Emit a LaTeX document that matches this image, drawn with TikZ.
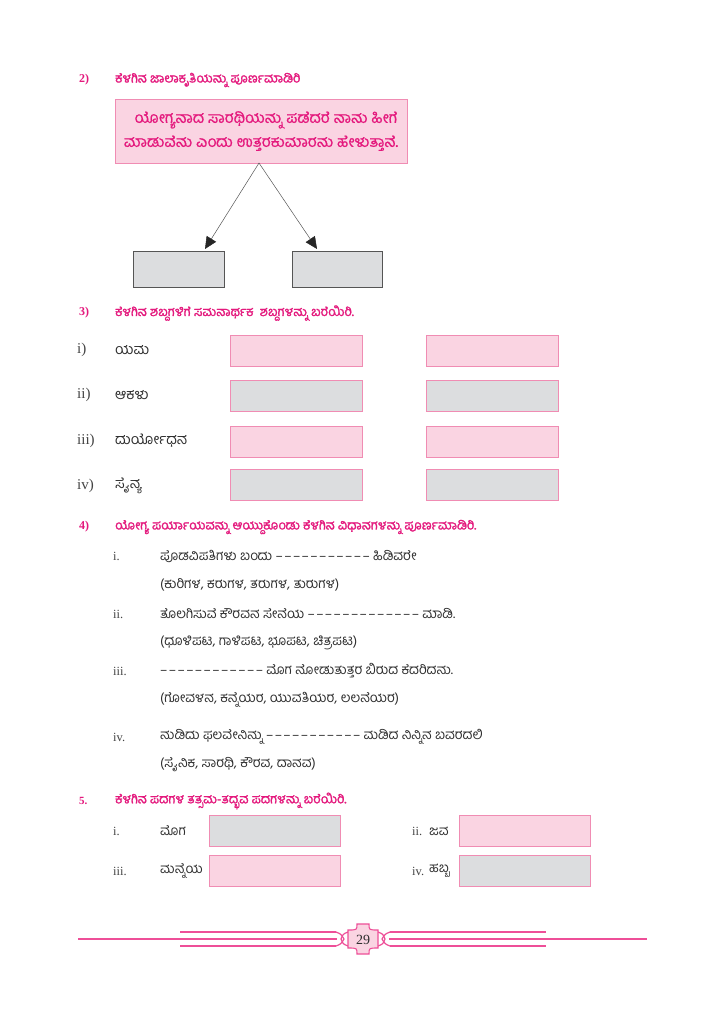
\documentclass[tikz,border=0pt]{standalone}
\usepackage{fontspec}
\setmainfont{Liberation Serif}
\newfontfamily\kn[Script=Kannada]{Hind Mysuru}
\newfontfamily\knb[Script=Kannada,FakeBold=1.6]{Hind Mysuru}
\newfontfamily\knm[Script=Kannada,FakeBold=0.8]{Hind Mysuru}
\usetikzlibrary{arrows.meta}
\definecolor{pk}{HTML}{E4197D}
\definecolor{pkf}{HTML}{FAD4E2}
\definecolor{pkb}{HTML}{F08CB3}
\definecolor{gyf}{HTML}{DCDDDF}
\definecolor{gyb}{HTML}{555555}
\definecolor{txt}{HTML}{2E2E2E}
\definecolor{rom}{HTML}{444444}
\definecolor{ftl}{HTML}{EE4F98}
\newcommand{\dd}{–\kern1.4pt}
\tikzset{
  hdnum/.style={anchor=west, inner sep=0, text=pk, font=\bfseries\fontsize{12}{12}\selectfont},
  hdtxt/.style={anchor=west, inner sep=0, text=pk, font=\knb\fontsize{12.8}{13}\selectfont},
  roml/.style={anchor=west, inner sep=0, text=rom, font=\fontsize{15}{15}\selectfont},
  romi/.style={anchor=west, inner sep=0, text=rom, font=\fontsize{12.5}{13}\selectfont},
  word/.style={anchor=west, inner sep=0, text=txt, font=\kn\fontsize{14.5}{15}\selectfont},
  sword/.style={anchor=west, inner sep=0, text=txt, font=\kn\fontsize{13.5}{14}\selectfont},
  item/.style={anchor=west, inner sep=0, text=txt, font=\kn\fontsize{13.5}{14}\selectfont},
  pbox/.style={draw=pkb, fill=pkf, line width=0.8pt, inner sep=0},
  gbox/.style={draw=pkb, fill=gyf, line width=0.8pt, inner sep=0},
  dbox/.style={draw=gyb, fill=gyf, line width=1pt, inner sep=0},
  arr/.style={draw=gyb, line width=0.5pt, -{Triangle[length=12pt,width=11pt,fill=black!85,color=black!85]}},
  fline/.style={draw=ftl, line width=1.3pt},
}
\begin{document}
\begin{tikzpicture}[x=1pt,y=-1pt]
\useasboundingbox (0,0) rectangle (724,1024);
\fill[white] (0,0) rectangle (724,1024);

% ---------- Section 2 ----------
\node[hdnum] (n2) at (79,80) {2)};
\node[hdtxt] (h2) at (115,80) {ಕೆಳಗಿನ ಜಾಲಾಕೃತಿಯನ್ನು ಪೂರ್ಣಮಾಡಿರಿ};
\node[pbox, minimum width=292pt, minimum height=64pt, align=center, text=pk,
      font=\knm\fontsize{15.5}{24}\selectfont] (pb) at (261,131)
  {\hspace*{10pt}ಯೋಗ್ಯನಾದ ಸಾರಥಿಯನ್ನು ಪಡೆದರೆ ನಾನು ಹೀಗೆ\\ಮಾಡುವೆನು ಎಂದು ಉತ್ತರಕುಮಾರನು ಹೇಳುತ್ತಾನೆ.};
\coordinate (apex) at (259,163);
\node[dbox, minimum width=91pt, minimum height=36pt] (g1) at (178.5,269) {};
\node[dbox, minimum width=90pt, minimum height=36pt] (g2) at (337,269) {};
\coordinate (t1) at (205,249);
\coordinate (t2) at (317,249);
\draw[arr] (apex) -- (t1);
\draw[arr] (apex) -- (t2);

% ---------- Section 3 ----------
\node[hdnum] (n3) at (79,313) {3)};
\node[hdtxt] (h3) at (115,313) {ಕೆಳಗಿನ ಶಬ್ದಗಳಿಗೆ ಸಮನಾರ್ಥಕ \ ಶಬ್ದಗಳನ್ನು ಬರೆಯಿರಿ.};

\node[roml] (r1) at (77,350) {i)};
\node[word] (w1) at (115,350) {ಯಮ};
\node[pbox, minimum width=132pt, minimum height=31pt] (b11) at (296,350.5) {};
\node[pbox, minimum width=132pt, minimum height=31pt] (b12) at (492,350.5) {};

\node[roml] (r2) at (77,395) {ii)};
\node[word] (w2) at (115,395) {ಆಕಳು};
\node[gbox, minimum width=132pt, minimum height=31pt] (b21) at (296,395.5) {};
\node[gbox, minimum width=132pt, minimum height=31pt] (b22) at (492,395.5) {};

\node[roml] (r3) at (77,441) {iii)};
\node[word] (w3) at (115,441) {ದುರ್ಯೋಧನ};
\node[pbox, minimum width=132pt, minimum height=31pt] (b31) at (296,441.5) {};
\node[pbox, minimum width=132pt, minimum height=31pt] (b32) at (492,441.5) {};

\node[roml] (r4) at (77,486) {iv)};
\node[word] (w4) at (115,486) {ಸೈನ್ಯ};
\node[gbox, minimum width=132pt, minimum height=31pt] (b41) at (296,484.5) {};
\node[gbox, minimum width=132pt, minimum height=31pt] (b42) at (492,484.5) {};

% ---------- Section 4 ----------
\node[hdnum] (n4) at (79,527) {4)};
\node[hdtxt] (h4) at (115,527) {ಯೋಗ್ಯ ಪರ್ಯಾಯವನ್ನು ಆಯ್ದುಕೊಂಡು ಕೆಳಗಿನ ವಿಧಾನಗಳನ್ನು ಪೂರ್ಣಮಾಡಿರಿ.};

\node[romi] (i1) at (113,556) {i.};
\node[item] (s1) at (160,556) {ಪೊಡವಿಪತಿಗಳು ಬಂದು \dd\dd\dd\dd\dd\dd\dd\dd\dd\dd– ಹಿಡಿವರೇ};
\node[item] (o1) at (160,585) {(ಕುರಿಗಳ, ಕರುಗಳ, ತರುಗಳ, ತುರುಗಳ)};

\node[romi] (i2) at (113,614) {ii.};
\node[item] (s2) at (160,614) {ತೊಲಗಿಸುವೆ ಕೌರವನ ಸೇನೆಯ \dd\dd\dd\dd\dd\dd\dd\dd\dd\dd\dd\dd– ಮಾಡಿ.};
\node[item] (o2) at (160,643) {(ಧೂಳಿಪಟ, ಗಾಳಿಪಟ, ಭೂಪಟ, ಚಿತ್ರಪಟ)};

\node[romi] (i3) at (113,671) {iii.};
\node[item] (s3) at (160,671) {\dd\dd\dd\dd\dd\dd\dd\dd\dd\dd\dd– ಮೊಗ ನೋಡುತುತ್ತರ ಬಿರುದ ಕೆದರಿದನು.};
\node[item] (o3) at (160,700) {(ಗೋವಳನ, ಕನ್ನೆಯರ, ಯುವತಿಯರ, ಲಲನೆಯರ)};

\node[romi] (i4) at (113,737) {iv.};
\node[item] (s4) at (160,737) {ನುಡಿದು ಫಲವೇನಿನ್ನು \dd\dd\dd\dd\dd\dd\dd\dd\dd\dd– ಮಡಿದ ನಿನ್ನಿನ ಬವರದಲಿ};
\node[item] (o4) at (160,765) {(ಸೈನಿಕ, ಸಾರಥಿ, ಕೌರವ, ದಾನವ)};

% ---------- Section 5 ----------
\node[hdnum, font=\bfseries\fontsize{11}{11}\selectfont] (n5) at (79,801) {5.};
\node[hdtxt] (h5) at (115,801) {ಕೆಳಗಿನ ಪದಗಳ ತತ್ಸಮ-ತದ್ಭವ ಪದಗಳನ್ನು ಬರೆಯಿರಿ.};

\node[romi] (j1) at (113,831) {i.};
\node[sword] (v1) at (160,831) {ಮೊಗ};
\node[gbox, minimum width=131pt, minimum height=31pt] (c11) at (274.5,831) {};
\node[romi] (j2) at (412,831) {ii.};
\node[sword] (v2) at (429,831) {ಜವ};
\node[pbox, minimum width=131pt, minimum height=31pt] (c12) at (524.5,831) {};

\node[romi] (j3) at (113,871) {iii.};
\node[sword] (v3) at (160,871) {ಮನ್ನೆಯ};
\node[pbox, minimum width=131pt, minimum height=31pt] (c21) at (274.5,870.5) {};
\node[romi] (j4) at (412,871) {iv.};
\node[sword] (v4) at (429,871) {ಹಬ್ಬ};
\node[gbox, minimum width=131pt, minimum height=31pt] (c22) at (524.5,870.5) {};

% ---------- Footer ----------
\coordinate (fl1) at (78,939);
\coordinate (fl2) at (337,939);
\coordinate (fr1) at (389,939);
\coordinate (fr2) at (647,939);
\draw[fline] (fl1) -- (fl2);
\draw[fline] (fr1) -- (fr2);
\coordinate (tl1) at (180,932); \coordinate (tl2) at (336,932);
\coordinate (bl1) at (180,946); \coordinate (bl2) at (336,946);
\coordinate (tr1) at (390,932); \coordinate (tr2) at (546,932);
\coordinate (br1) at (390,946); \coordinate (br2) at (546,946);
\draw[fline] (tl1) -- (tl2); \draw[fline] (bl1) -- (bl2);
\draw[fline] (tr1) -- (tr2); \draw[fline] (br1) -- (br2);
% side ornaments
\draw[fline, line width=1.2pt] (336,932) .. controls (341,934) .. (344,939) .. controls (341,944) .. (336,946);
\draw[fline, line width=1.2pt] (348,932) .. controls (343,934) .. (341,939) .. controls (343,944) .. (348,946);
\draw[fline, line width=1.2pt] (390,932) .. controls (385,934) .. (382,939) .. controls (385,944) .. (390,946);
\draw[fline, line width=1.2pt] (378,932) .. controls (383,934) .. (385,939) .. controls (383,944) .. (378,946);
% badge
\filldraw[draw=ftl, fill=pkf, line width=1.1pt]
  (357,924) -- (369,924) .. controls (369,930) .. (378,930)
  -- (378,948) .. controls (369,948) .. (369,954)
  -- (357,954) .. controls (357,948) .. (348,948)
  -- (348,930) .. controls (357,930) .. (357,924) -- cycle;
\node[inner sep=0, text=txt, font=\fontsize{14}{14}\selectfont] (pg) at (363,939.5) {29};
\end{tikzpicture}
\end{document}
